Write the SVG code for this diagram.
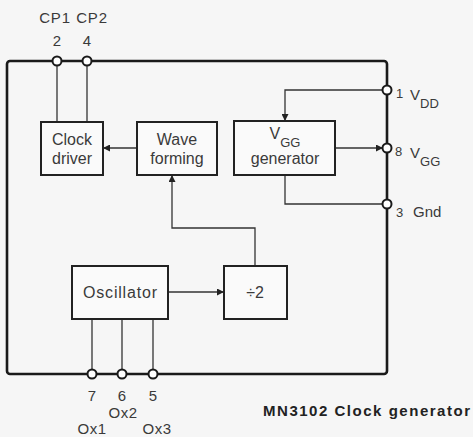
<svg xmlns="http://www.w3.org/2000/svg" width="473" height="437" viewBox="0 0 473 437">
<style>
.bg{fill:#f6f6f6}
.frame{fill:none;stroke:#1a1a1a;stroke-width:2.6;stroke-linejoin:round}
.box{fill:#fafafa;stroke:#222;stroke-width:2}
.ln{fill:none;stroke:#333;stroke-width:1.3}
.pin{fill:#fff;stroke:#1a1a1a;stroke-width:2}
.t{font-family:"Liberation Sans",Arial,sans-serif;font-size:16px;fill:#3a3a3a}
.lbl{font-family:"Liberation Sans",Arial,sans-serif;font-size:15px;fill:#3a3a3a}
.num{font-family:"Liberation Sans",Arial,sans-serif;font-size:13px;fill:#3a3a3a}
.sub{font-size:13px}
.cap{font-family:"Liberation Sans",Arial,sans-serif;font-size:15px;font-weight:bold;fill:#222}
</style>
<defs>
<marker id="ah" viewBox="0 0 10 10" refX="10" refY="5" markerWidth="7" markerHeight="7" markerUnits="userSpaceOnUse" orient="auto">
<path d="M0,0 L10,5 L0,10 z" fill="#222"/>
</marker>
</defs>
<rect class="bg" x="0" y="0" width="473" height="437"/>
<rect class="frame" x="7" y="61" width="380" height="313" rx="3"/>

<g id="connectors">
<line class="ln" x1="57" y1="61" x2="57" y2="122"/>
<line class="ln" x1="87" y1="61" x2="87" y2="122"/>
<line class="ln" x1="137" y1="148" x2="103" y2="148" marker-end="url(#ah)"/>
<polyline class="ln" points="255,266 255,228 172,228 172,175" marker-end="url(#ah)"/>
<line class="ln" x1="168" y1="292" x2="224" y2="292" marker-end="url(#ah)"/>
<polyline class="ln" points="387,90 285,90 285,121" marker-end="url(#ah)"/>
<line class="ln" x1="335" y1="148" x2="383" y2="148" marker-end="url(#ah)"/>
<polyline class="ln" points="285,175 285,204 387,204"/>
<line class="ln" x1="92" y1="319" x2="92" y2="374"/>
<line class="ln" x1="122" y1="319" x2="122" y2="374"/>
<line class="ln" x1="153" y1="319" x2="153" y2="374"/>
</g>

<g id="clock-driver">
<rect class="box" x="41" y="122" width="62" height="53"/>
<text class="t" x="72" y="145" text-anchor="middle">Clock</text>
<text class="t" x="72" y="164" text-anchor="middle">driver</text>
</g>
<g id="wave-forming">
<rect class="box" x="137" y="122" width="80" height="53"/>
<text class="t" x="177" y="145" text-anchor="middle">Wave</text>
<text class="t" x="177" y="164" text-anchor="middle">forming</text>
</g>
<g id="vgg-generator">
<rect class="box" x="234" y="121" width="101" height="54"/>
<text class="t" x="285" y="139" text-anchor="middle">V<tspan class="sub" dy="8">GG</tspan></text>
<text class="t" x="285" y="164" text-anchor="middle">generator</text>
</g>
<g id="oscillator">
<rect class="box" x="72" y="266" width="96" height="53"/>
<text class="t" x="120" y="298" text-anchor="middle" textLength="74">Oscillator</text>
</g>
<g id="divider">
<rect class="box" x="224" y="266" width="63" height="53"/>
<text class="t" x="255" y="298" text-anchor="middle">÷2</text>
</g>

<g id="pin-2">
<circle class="pin" cx="57" cy="61" r="4.5"/>
<text class="lbl" x="57" y="46" text-anchor="middle">2</text>
<text class="lbl" x="55" y="23" text-anchor="middle" letter-spacing="0.8">CP1</text>
</g>
<g id="pin-4">
<circle class="pin" cx="87" cy="61" r="4.5"/>
<text class="lbl" x="87" y="46" text-anchor="middle">4</text>
<text class="lbl" x="92" y="23" text-anchor="middle" letter-spacing="0.8">CP2</text>
</g>
<g id="pin-1">
<circle class="pin" cx="387" cy="90" r="4.5"/>
<text class="num" x="396" y="98">1</text>
<text class="lbl" x="410" y="100">V<tspan class="sub" dy="8">DD</tspan></text>
</g>
<g id="pin-8">
<circle class="pin" cx="387" cy="148" r="4.5"/>
<text class="num" x="395" y="156">8</text>
<text class="lbl" x="410" y="158">V<tspan class="sub" dy="8">GG</tspan></text>
</g>
<g id="pin-3">
<circle class="pin" cx="387" cy="204" r="4.5"/>
<text class="num" x="396" y="217">3</text>
<text class="lbl" x="413" y="217">Gnd</text>
</g>
<g id="pin-7">
<circle class="pin" cx="92" cy="374" r="4.5"/>
<text class="lbl" x="92" y="401" text-anchor="middle">7</text>
<text class="lbl" x="92" y="434" text-anchor="middle" letter-spacing="0.5">Ox1</text>
</g>
<g id="pin-6">
<circle class="pin" cx="122" cy="374" r="4.5"/>
<text class="lbl" x="122" y="401" text-anchor="middle">6</text>
<text class="lbl" x="123" y="418" text-anchor="middle" letter-spacing="0.5">Ox2</text>
</g>
<g id="pin-5">
<circle class="pin" cx="153" cy="374" r="4.5"/>
<text class="lbl" x="153" y="401" text-anchor="middle">5</text>
<text class="lbl" x="157" y="434" text-anchor="middle" letter-spacing="0.5">Ox3</text>
</g>

<text class="cap" x="263" y="416" textLength="207" lengthAdjust="spacing">MN3102  Clock generator</text>
</svg>
